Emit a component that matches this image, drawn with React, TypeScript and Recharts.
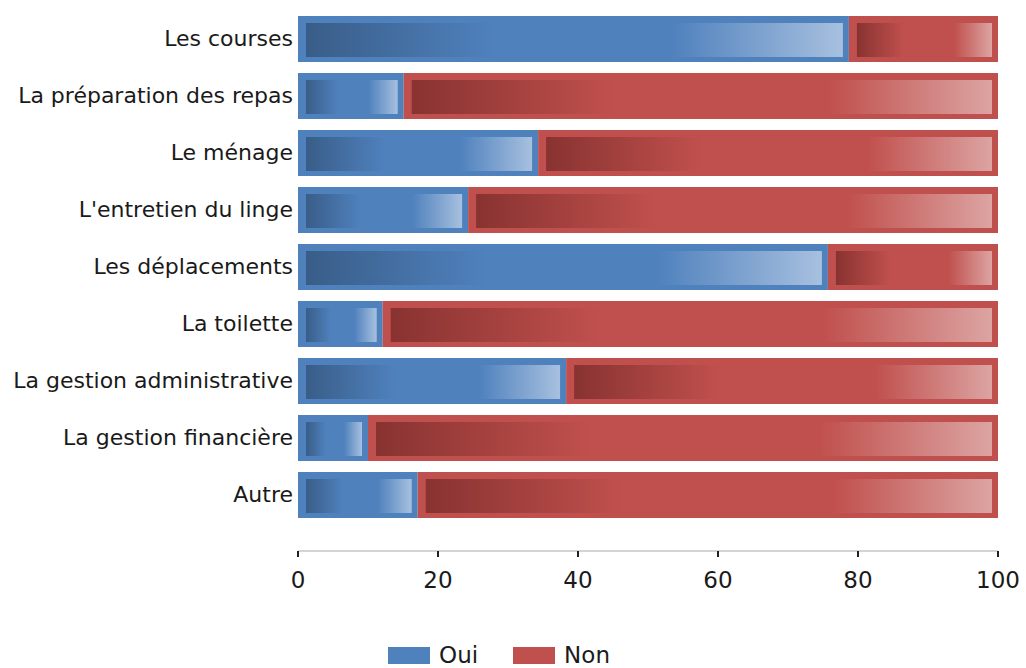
import { BarChart, Bar, XAxis, YAxis, Legend } from "recharts";

const categories = [
  "Les courses",
  "La préparation des repas",
  "Le ménage",
  "L'entretien du linge",
  "Les déplacements",
  "La toilette",
  "La gestion administrative",
  "La gestion financière",
  "Autre",
];
const oui = [78.7, 15.1, 34.3, 24.3, 75.7, 12.1, 38.3, 10.0, 17.1];
const non = [21.3, 84.9, 65.7, 75.7, 24.3, 87.9, 61.7, 90.0, 82.9];
const xTicks = [0, 20, 40, 60, 80, 100];

const data = categories.map((name, i) => ({ name, oui: oui[i], non: non[i] }));

const BLUE = "#4F81BD";
const RED = "#C0504D";

function GradBar(props: any) {
  const { x, y, width, height, fill, gradId } = props;
  if (!width || width <= 0) return null;
  const iw = Math.max(width - 14, 0);
  return (
    <g>
      <rect x={x} y={y} width={width} height={height} fill={fill} />
      <rect x={x + 8} y={y + 7} width={iw} height={height - 12} fill={`url(#${gradId})`} />
    </g>
  );
}

function LegendContent() {
  const item = (color: string, label: string, last?: boolean) => (
    <span style={{ display: "inline-flex", alignItems: "center", marginRight: last ? 0 : 35 }}>
      <span style={{ width: 42, height: 17, background: color, display: "inline-block", marginRight: 9 }} />
      <span>{label}</span>
    </span>
  );
  return (
    <div
      style={{
        display: "flex",
        justifyContent: "center",
        fontFamily: "DejaVu Sans",
        fontSize: 23,
        lineHeight: "22px",
        color: "#1a1a1a",
        height: 22,
      }}
    >
      {item(BLUE, "Oui")}
      {item(RED, "Non", true)}
    </div>
  );
}

export default function App() {
  return (
    <div style={{ position: "absolute", left: 0, top: 0, background: "#fff" }}>
      <BarChart
        layout="vertical"
        width={1026}
        height={668}
        data={data}
        margin={{ top: 10, right: 28, left: 0, bottom: 55 }}
        barSize={46}
      >
        <defs>
          <linearGradient id="gBlue" x1="0" y1="0" x2="1" y2="0">
            <stop offset="0" stopColor="#395D88" />
            <stop offset="0.35" stopColor={BLUE} />
            <stop offset="0.68" stopColor={BLUE} />
            <stop offset="1" stopColor="#A7C0DF" />
          </linearGradient>
          <linearGradient id="gRed" x1="0" y1="0" x2="1" y2="0">
            <stop offset="0" stopColor="#883331" />
            <stop offset="0.35" stopColor={RED} />
            <stop offset="0.72" stopColor={RED} />
            <stop offset="1" stopColor="#DCA4A2" />
          </linearGradient>
        </defs>
        <XAxis
          type="number"
          domain={[0, 100]}
          ticks={xTicks}
          height={40}
          axisLine={{ stroke: "#d4d4d4", strokeWidth: 2 }}
          tickLine={{ stroke: "#222", strokeWidth: 2 }}
          tickSize={6}
          tickMargin={15}
          tick={{ fill: "#1a1a1a", fontSize: 23, fontFamily: "DejaVu Sans" }}
        />
        <YAxis
          type="category"
          dataKey="name"
          width={298}
          axisLine={false}
          tickLine={false}
          tickSize={5}
          tickMargin={0}
          padding={{ top: 0, bottom: 28 }}
          tick={{ fill: "#1a1a1a", fontSize: 22, fontFamily: "DejaVu Sans" }}
        />
        <Bar
          dataKey="oui"
          name="Oui"
          stackId="a"
          fill={BLUE}
          isAnimationActive={false}
          shape={(p: any) => <GradBar {...p} gradId="gBlue" />}
        />
        <Bar
          dataKey="non"
          name="Non"
          stackId="a"
          fill={RED}
          isAnimationActive={false}
          shape={(p: any) => <GradBar {...p} gradId="gRed" />}
        />
        <Legend verticalAlign="bottom" content={LegendContent} wrapperStyle={{ bottom: 2 }} />
      </BarChart>
    </div>
  );
}
